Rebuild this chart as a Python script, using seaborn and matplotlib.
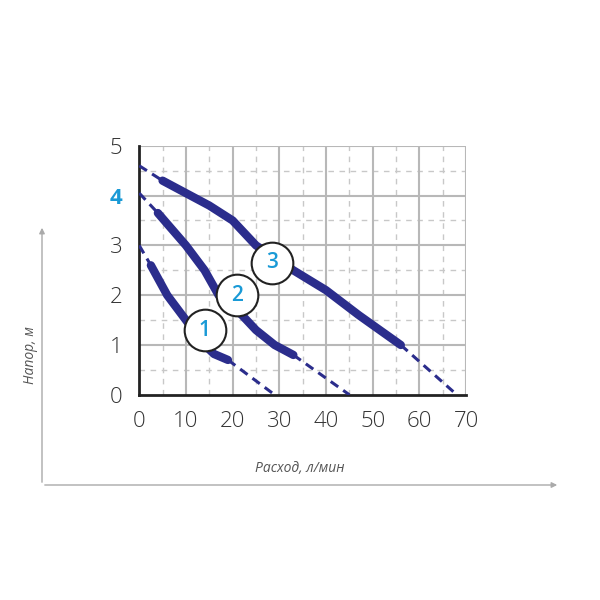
import matplotlib
matplotlib.use("Agg")
import matplotlib.pyplot as plt
import seaborn as sns
import pandas as pd

sns.set_style("white")
plt.rcParams['font.family'] = ['Open Sans', 'DejaVu Sans']

c1_solid_x = [2.5, 6, 10, 14, 16, 19]
c1_solid_y = [2.6, 2.0, 1.5, 1.0, 0.82, 0.7]
c1_dash_x = [[0, 2.5], [19, 29]]
c1_dash_y = [[3.0, 2.6], [0.7, 0.0]]

c2_solid_x = [4, 10, 14, 17, 22, 25, 29, 33]
c2_solid_y = [3.65, 3.0, 2.5, 2.0, 1.6, 1.3, 1.0, 0.8]
c2_dash_x = [[0, 4], [33, 45]]
c2_dash_y = [[4.05, 3.65], [0.8, 0.0]]

c3_solid_x = [5, 15, 20, 25, 33, 40, 47, 56]
c3_solid_y = [4.3, 3.8, 3.5, 3.0, 2.5, 2.1, 1.6, 1.0]
c3_dash_x = [[0, 5], [56, 68]]
c3_dash_y = [[4.6, 4.3], [1.0, 0.0]]

label_x = [14, 21, 28.5]
label_y = [1.3, 2.0, 2.65]
labels = ["1", "2", "3"]

xticks = [0, 10, 20, 30, 40, 50, 60, 70]
yticks = [0, 1, 2, 3, 4, 5]

navy = "#2b2d8c"
blue = "#1a9ad6"

fig = plt.figure(figsize=(6, 6), dpi=100)
ax = fig.add_axes([0.232, 0.342, 0.545, 0.415])

for x in range(5, 70, 10):
    ax.axvline(x, color="#c8c8c8", lw=1, ls=(0, (4, 4)), zorder=0)
for y in [0.5, 1.5, 2.5, 3.5, 4.5]:
    ax.axhline(y, color="#c8c8c8", lw=1, ls=(0, (4, 4)), zorder=0)
for x in range(10, 80, 10):
    ax.axvline(x, color="#b8b8b8", lw=1.5, zorder=0)
for y in range(1, 6):
    ax.axhline(y, color="#b8b8b8", lw=1.5, zorder=0)

for sx, sy, dxs, dys in [(c1_solid_x, c1_solid_y, c1_dash_x, c1_dash_y),
                         (c2_solid_x, c2_solid_y, c2_dash_x, c2_dash_y),
                         (c3_solid_x, c3_solid_y, c3_dash_x, c3_dash_y)]:
    df = pd.DataFrame({"x": sx, "y": sy})
    sns.lineplot(data=df, x="x", y="y", ax=ax, color=navy, lw=6, sort=False,
                 solid_capstyle="round", solid_joinstyle="round", zorder=3)
    for dx, dy in zip(dxs, dys):
        ax.plot(dx, dy, color=navy, lw=2.2, ls=(0, (3, 2)), zorder=3)

for x, y, t in zip(label_x, label_y, labels):
    ax.scatter([x], [y], s=900, facecolor="white", edgecolor="#222222", lw=1.5, zorder=5)
    ax.text(x, y, t, color=blue, fontsize=15, fontweight="semibold", ha="center", va="center", zorder=6)

ax.set_xlim(0, 70)
ax.set_ylim(0, 5)
ax.set_xticks(xticks)
ax.set_yticks(yticks)
ax.tick_params(axis="both", labelsize=16, colors="#333333", length=5, width=1.5,
               direction="out", pad=7)
for lab in ax.get_xticklabels() + ax.get_yticklabels():
    lab.set_fontweight("light")
for lab in ax.get_yticklabels():
    if lab.get_text() == "4":
        lab.set_color(blue)
        lab.set_fontweight("bold")
ax.set_xlabel("")
ax.set_ylabel("")
for s in ["top", "right"]:
    ax.spines[s].set_visible(False)
for s in ["left", "bottom"]:
    ax.spines[s].set_color("#222222")
    ax.spines[s].set_linewidth(2)

fig.patches.append(matplotlib.patches.FancyArrowPatch((42/600, 1-485/600), (42/600, 1-225/600),
                   transform=fig.transFigure, arrowstyle="-|>", mutation_scale=8, color="#aaaaaa", lw=1))
fig.patches.append(matplotlib.patches.FancyArrowPatch((42/600, 1-485/600), (560/600, 1-485/600),
                   transform=fig.transFigure, arrowstyle="-|>", mutation_scale=8, color="#aaaaaa", lw=1))
fig.text(30/600, 1-355/600, "Напор, м", rotation=90, fontsize=10, style="italic",
         color="#555555", ha="center", va="center")
fig.text(300/600, 1-468/600, "Расход, л/мин", fontsize=10, style="italic",
         color="#555555", ha="center", va="center")

fig.savefig("out.png", dpi=100)
